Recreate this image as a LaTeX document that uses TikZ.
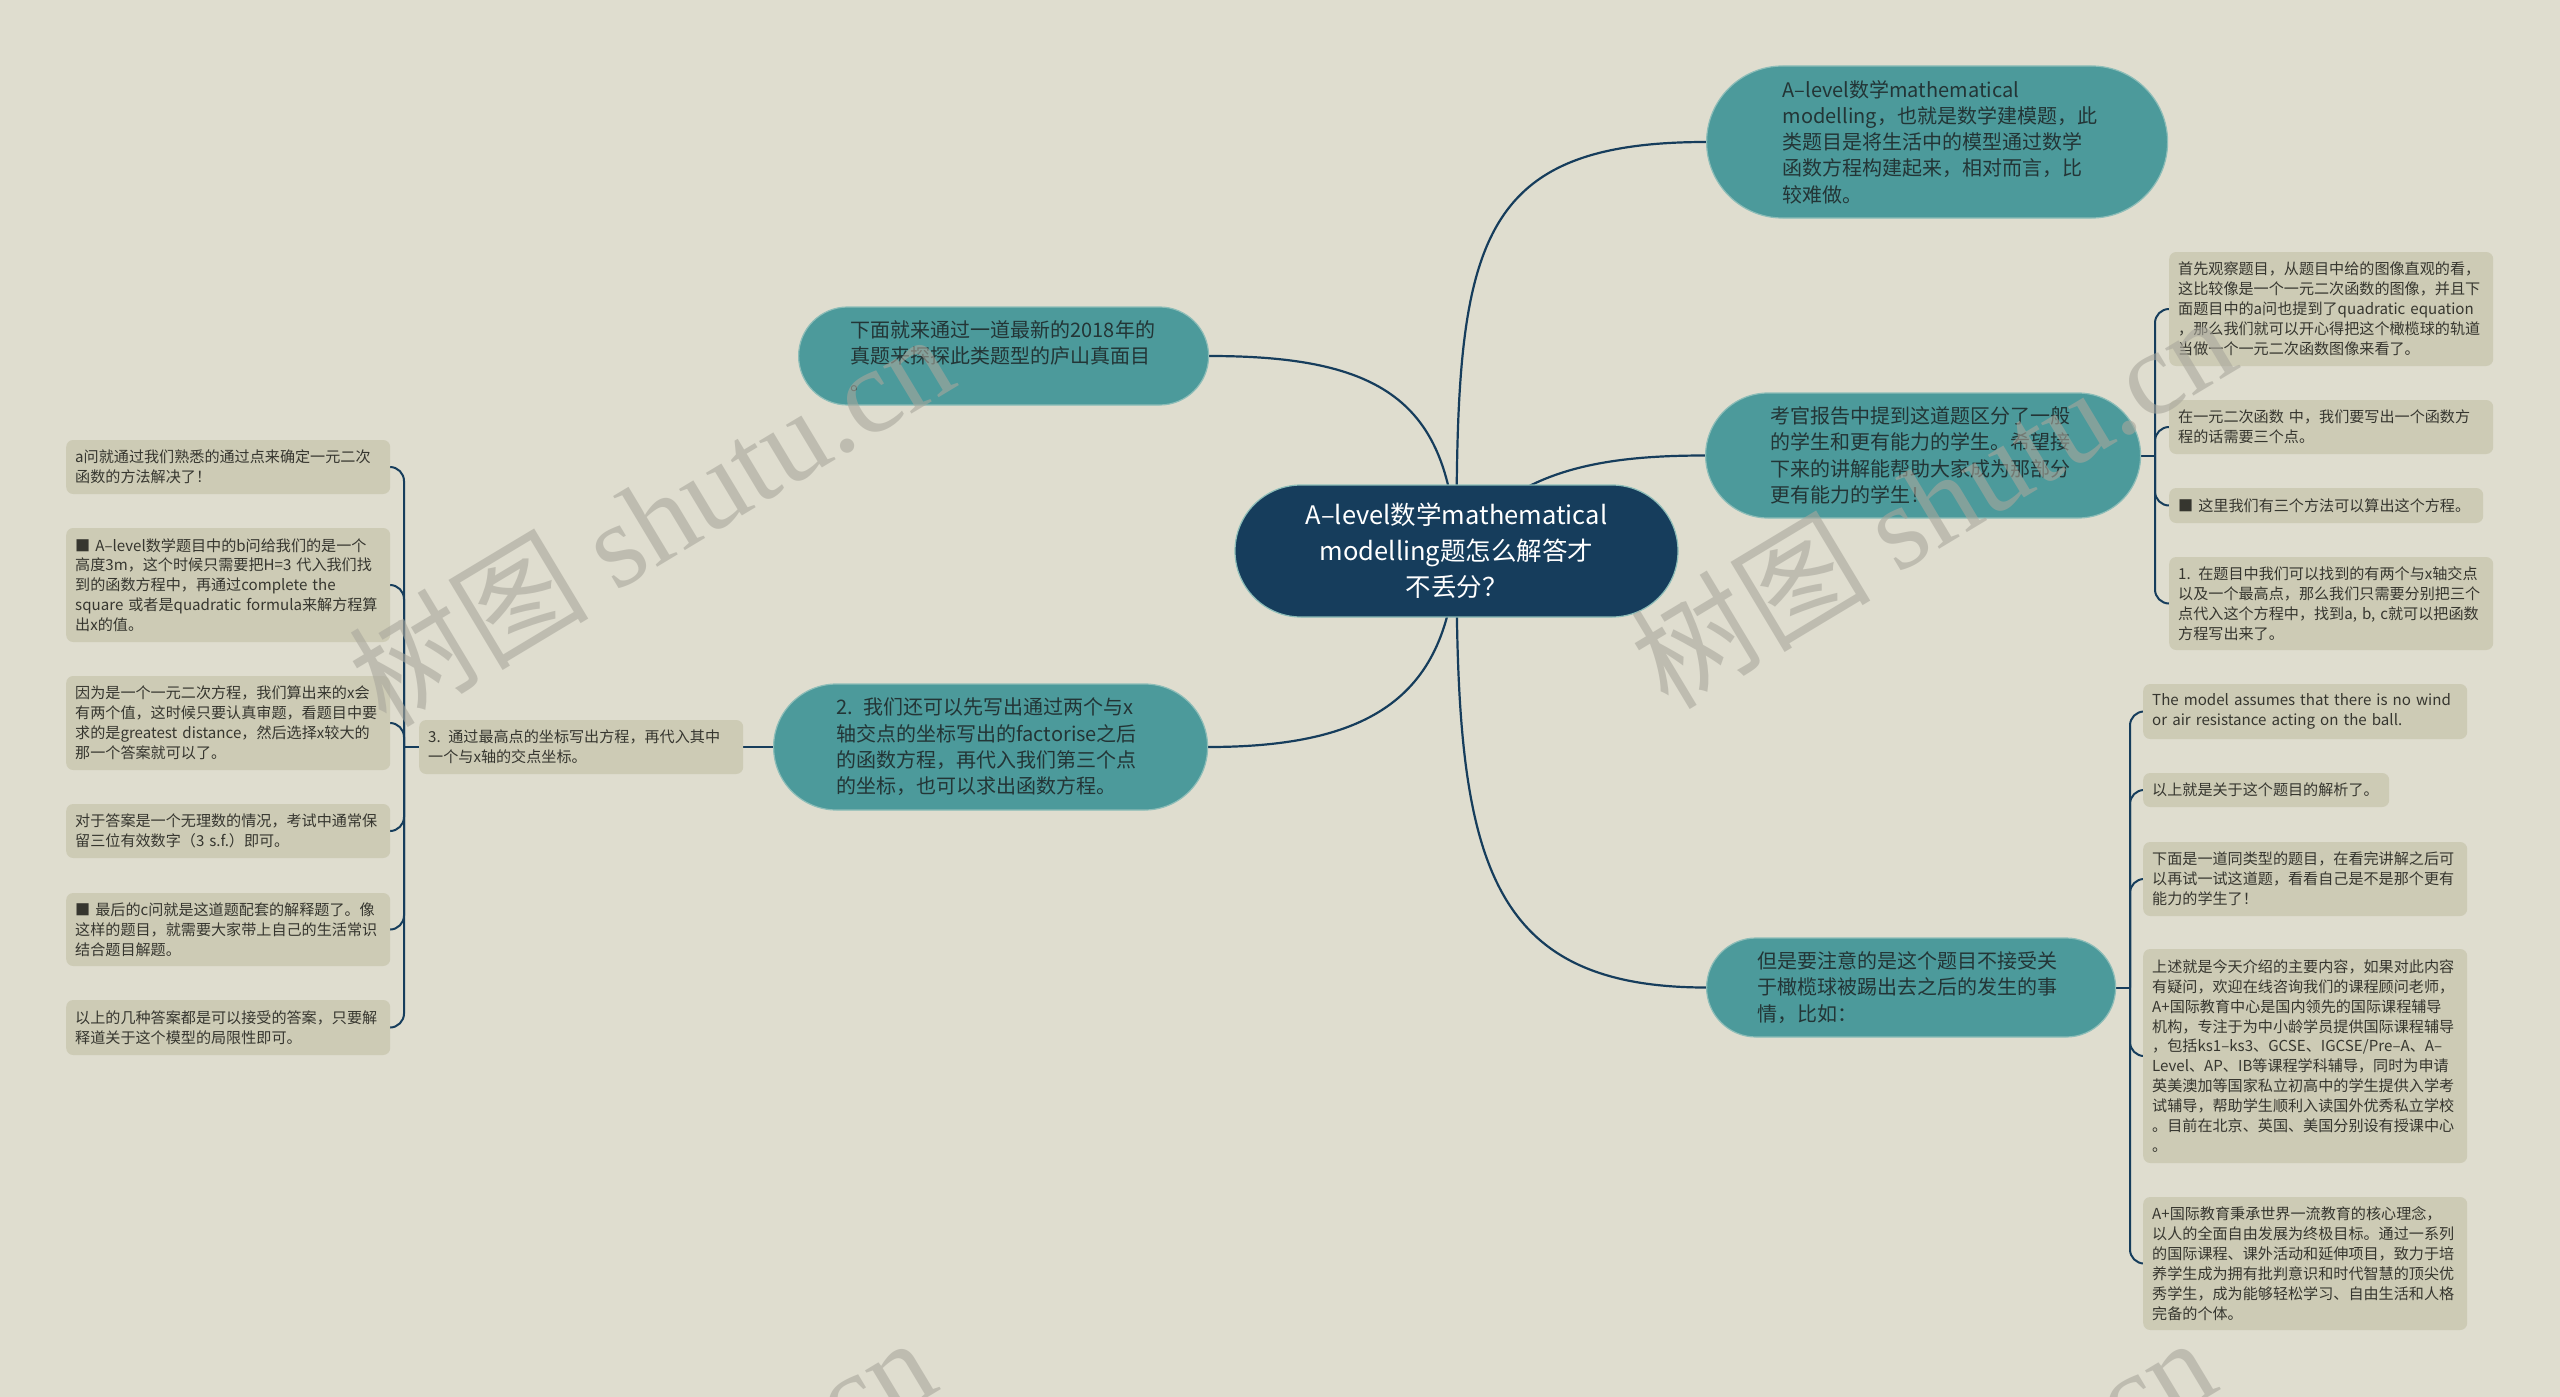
\documentclass[tikz,border=0pt]{standalone}
\usepackage{fontspec}
\setmainfont{Noto Sans CJK SC}
\newfontfamily\wmserif{Liberation Serif}
\newfontfamily\wmcjk{Noto Sans CJK SC}
\definecolor{bgc}{HTML}{DFDDCF}
\definecolor{tealnode}{HTML}{4C9A9B}
\definecolor{tealedge}{HTML}{8DBDB8}
\definecolor{navy}{HTML}{163D5C}
\definecolor{leafc}{HTML}{CDCBB5}
\definecolor{txtc}{HTML}{233536}
\definecolor{leaftxt}{HTML}{36362F}
\definecolor{wmc}{HTML}{A9A79C}
\pgfdeclarelayer{bglayer}
\pgfdeclarelayer{edges}
\pgfsetlayers{bglayer,edges,main}
\tikzset{
  pill/.style={rectangle, fill=tealnode, draw=tealedge, line width=1.2pt, anchor=west,
    align=left, text=txtc, inner ysep=0pt, font=\fontsize{20}{26.3}\selectfont},
  rootnode/.style={rectangle, fill=navy, draw=tealedge, line width=1.2pt,
    align=center, text=white, inner ysep=0pt, font=\fontsize{25.5}{36}\selectfont},
  leaf/.style={rectangle, fill=leafc, rounded corners=7pt, anchor=west, align=left,
    text=leaftxt, inner xsep=9pt, inner ysep=0pt, font=\fontsize{15.1}{19.9}\selectfont},
  conn/.style={draw=navy, line width=2.2pt},
  twig/.style={draw=navy, line width=2pt, rounded corners=14pt},
  wm/.style={text=wmc, opacity=0.6, font=\fontsize{120}{120}\selectfont, inner sep=0pt}
}
\begin{document}
\begin{tikzpicture}[x=1pt,y=-1pt]
\begin{pgfonlayer}{bglayer}
\fill[bgc] (0,0) rectangle (2560,1397);
\end{pgfonlayer}
\useasboundingbox (0,0) rectangle (2560,1397);

% root
\node[rootnode, minimum width=443pt, minimum height=132pt, rounded corners=66pt,
  inner xsep=20pt, text width=403pt] (root) at (1456.5,551)
  {A–level数学mathematical\\modelling题怎么解答才\\不丢分？};

% main branches
\node[pill, minimum height=152pt, rounded corners=76pt, inner xsep=76pt, text width=309pt]
  (n1) at (1706,142)
  {A–level数学mathematical\\modelling，也就是数学建模题，此\\类题目是将生活中的模型通过数学\\函数方程构建起来，相对而言，比\\较难做。};
\node[pill, minimum height=98pt, rounded corners=49pt, inner xsep=52pt, text width=306pt]
  (n2) at (798,356)
  {下面就来通过一道最新的2018年的\\真题来探探此类题型的庐山真面目\\。};
\node[pill, minimum height=125pt, rounded corners=62.5pt, inner xsep=65pt, text width=305pt]
  (n3) at (1705,455.5)
  {考官报告中提到这道题区分了一般\\的学生和更有能力的学生。希望接\\下来的讲解能帮助大家成为那部分\\更有能力的学生！};
\node[pill, minimum height=126pt, rounded corners=63pt, inner xsep=63pt, text width=308pt]
  (n4) at (773,747)
  {2. 我们还可以先写出通过两个与x\\轴交点的坐标写出的factorise之后\\的函数方程，再代入我们第三个点\\的坐标，也可以求出函数方程。};
\node[pill, minimum height=99pt, rounded corners=49.5pt, inner xsep=51pt, text width=307pt]
  (n5) at (1706,987.5)
  {但是要注意的是这个题目不接受关\\于橄榄球被踢出去之后的发生的事\\情，比如：};

% right-top leaves
\node[leaf, minimum height=114pt, text width=306pt] (a1) at (2169,309)
  {首先观察题目，从题目中给的图像直观的看，\\这比较像是一个一元二次函数的图像，并且下\\面题目中的a问也提到了quadratic equation\\，那么我们就可以开心得把这个橄榄球的轨道\\当做一个一元二次函数图像来看了。};
\node[leaf, minimum height=54pt, text width=306pt] (a2) at (2169,427)
  {在一元二次函数 中，我们要写出一个函数方\\程的话需要三个点。};
\node[leaf, minimum height=35pt, text width=296pt] (a3) at (2169,505.5)
  {■ 这里我们有三个方法可以算出这个方程。};
\node[leaf, minimum height=93pt, text width=306pt] (a4) at (2169,603.5)
  {1. 在题目中我们可以找到的有两个与x轴交点\\以及一个最高点，那么我们只需要分别把三个\\点代入这个方程中，找到a, b, c就可以把函数\\方程写出来了。};

% left side
\node[leaf, minimum height=54pt, text width=306pt] (m3) at (419,747)
  {3. 通过最高点的坐标写出方程，再代入其中\\一个与x轴的交点坐标。};
\node[leaf, minimum height=54pt, text width=306pt] (l1) at (66,467)
  {a问就通过我们熟悉的通过点来确定一元二次\\函数的方法解决了！};
\node[leaf, minimum height=114pt, text width=306pt] (l2) at (66,585)
  {■ A–level数学题目中的b问给我们的是一个\\高度3m，这个时候只需要把H=3 代入我们找\\到的函数方程中，再通过complete the\\square 或者是quadratic formula来解方程算\\出x的值。};
\node[leaf, minimum height=94pt, text width=306pt] (l3) at (66,723)
  {因为是一个一元二次方程，我们算出来的x会\\有两个值，这时候只要认真审题，看题目中要\\求的是greatest distance，然后选择x较大的\\那一个答案就可以了。};
\node[leaf, minimum height=54pt, text width=306pt] (l4) at (66,831)
  {对于答案是一个无理数的情况，考试中通常保\\留三位有效数字（3 s.f.）即可。};
\node[leaf, minimum height=73pt, text width=306pt] (l5) at (66,929.5)
  {■ 最后的c问就是这道题配套的解释题了。像\\这样的题目，就需要大家带上自己的生活常识\\结合题目解题。};
\node[leaf, minimum height=55pt, text width=306pt] (l6) at (66,1027.5)
  {以上的几种答案都是可以接受的答案，只要解\\释道关于这个模型的局限性即可。};

% right-bottom leaves
\node[leaf, minimum height=55pt, text width=306pt] (b1) at (2143,711.5)
  {The model assumes that there is no wind\\or air resistance acting on the ball.};
\node[leaf, minimum height=34pt, text width=228pt] (b2) at (2143,790)
  {以上就是关于这个题目的解析了。};
\node[leaf, minimum height=74pt, text width=306pt] (b3) at (2143,879)
  {下面是一道同类型的题目，在看完讲解之后可\\以再试一试这道题，看看自己是不是那个更有\\能力的学生了！};
\node[leaf, minimum height=214pt, text width=306pt] (b4) at (2143,1056)
  {上述就是今天介绍的主要内容，如果对此内容\\有疑问，欢迎在线咨询我们的课程顾问老师，\\A+国际教育中心是国内领先的国际课程辅导\\机构，专注于为中小龄学员提供国际课程辅导\\，包括ks1–ks3、GCSE、IGCSE/Pre–A、A–\\Level、AP、IB等课程学科辅导，同时为申请\\英美澳加等国家私立初高中的学生提供入学考\\试辅导，帮助学生顺利入读国外优秀私立学校\\。目前在北京、英国、美国分别设有授课中心\\。};
\node[leaf, minimum height=133pt, text width=306pt] (b5) at (2143,1263.5)
  {A+国际教育秉承世界一流教育的核心理念，\\以人的全面自由发展为终极目标。通过一系列\\的国际课程、课外活动和延伸项目，致力于培\\养学生成为拥有批判意识和时代智慧的顶尖优\\秀学生，成为能够轻松学习、自由生活和人格\\完备的个体。};

% trunk points
\coordinate (ta) at (2155,455.5);
\coordinate (tl) at (404,747);
\coordinate (tb) at (2130,987.5);

\begin{pgfonlayer}{edges}
\draw[conn] (root.center) .. controls (1456,250) and (1470,142) .. (n1.west);
\draw[conn] (root.center) .. controls (1450,400) and (1380,356) .. (n2.east);
\draw[conn] (root.center) .. controls (1510,470) and (1600,455.5) .. (n3.west);
\draw[conn] (root.center) .. controls (1450,690) and (1380,747) .. (n4.east);
\draw[conn] (root.center) .. controls (1456,850) and (1480,987.5) .. (n5.west);
\draw[conn] (n4.west) -- (m3.east);
% right-top cluster
\draw[twig] (n3.east) -- (ta);
\foreach \c in {a1,a2,a3,a4} \draw[twig] (ta) |- (\c.west);
% left cluster
\draw[twig] (m3.west) -- (tl);
\foreach \c in {l1,l2,l3,l4,l5,l6} \draw[twig] (tl) |- (\c.east);
% right-bottom cluster
\draw[twig] (n5.east) -- (tb);
\foreach \c in {b1,b2,b3,b4,b5} \draw[twig] (tb) |- (\c.west);
\end{pgfonlayer}

% watermarks
\node[wm, rotate=31] (w1) at (650,518) {\wmcjk 树图 \wmserif shutu.cn};
\node[wm, rotate=31] (w2) at (1932,500) {\wmcjk 树图 \wmserif shutu.cn};
\node[wm, rotate=31] (w3) at (632,1522) {\wmcjk 树图 \wmserif shutu.cn};
\node[wm, rotate=31] (w4) at (1912,1522) {\wmcjk 树图 \wmserif shutu.cn};
\end{tikzpicture}
\end{document}
